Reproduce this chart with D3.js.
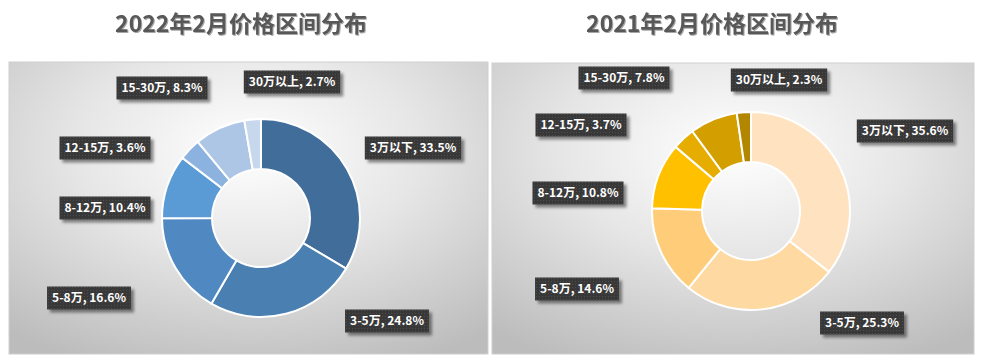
<!DOCTYPE html>
<html>
<head>
<meta charset="utf-8">
<script src="https://cdn.jsdelivr.net/npm/d3@7/dist/d3.min.js"></script>
<style>
  body { margin: 0; background: #fff; }
  svg { display: block; }
</style>
</head>
<body>
<script>
'use strict';

const W = 985, H = 362;

// data
const categories = ["3万以下", "3-5万", "5-8万", "8-12万", "12-15万", "15-30万", "30万以上"];
const values2022 = [33.5, 24.8, 16.6, 10.4, 3.6, 8.3, 2.7];
const values2021 = [35.6, 25.3, 14.6, 10.8, 3.7, 7.8, 2.3];
const titles = ["2022年2月价格区间分布", "2021年2月价格区间分布"];

const colors2022 = ["#416d9b", "#4a7fb2", "#5089c2", "#5b9bd5", "#8cb2df", "#aec6e6", "#c7d7ec"];
const colors2021 = ["#ffe3c0", "#ffd9a2", "#ffcc79", "#ffc000", "#e6ad00", "#d29e00", "#b38600"];

// label box centres, relative to donut centre (hand placed like the original)
const labelOffsets2022 = [[152, -70], [126, 103], [-172, 80], [-156, -10], [-156, -70], [-99, -130], [31, -136]];
const labelOffsets2021 = [[154, -80], [111, 112], [-174, 78], [-173, -18], [-170, -86], [-127, -133], [28, -131]];

const panels = [
  { title: titles[0], values: values2022, colors: colors2022, offsets: labelOffsets2022,
    box: [9, 62, 479, 292], cx: 261, cy: 218, titleX: 241 },
  { title: titles[1], values: values2021, colors: colors2021, offsets: labelOffsets2021,
    box: [492, 63, 482, 291], cx: 751, cy: 211, titleX: 712 }
];

const svg = d3.select("body").append("svg")
    .attr("width", W)
    .attr("height", H);

const defs = svg.append("defs");

let grad = defs.append("radialGradient")
    .attr("id", "bg")
    .attr("cx", 0.5).attr("cy", 0.3).attr("r", 0.8)
    .attr("fx", 0.5).attr("fy", 0.3);
grad.append("stop").attr("offset", "0%").attr("stop-color", "#ffffff");
grad.append("stop").attr("offset", "45%").attr("stop-color", "#e6e6e6");
grad.append("stop").attr("offset", "100%").attr("stop-color", "#bcbcbc");

let pat = defs.append("pattern")
    .attr("id", "dots")
    .attr("width", 3).attr("height", 3)
    .attr("patternUnits", "userSpaceOnUse");
pat.append("rect").attr("width", 3).attr("height", 3).attr("fill", "#393939");
pat.append("rect").attr("x", 1).attr("y", 1).attr("width", 1).attr("height", 1).attr("fill", "#4d4d4d");

let shadow = defs.append("filter").attr("id", "shadow")
    .attr("x", "-20%").attr("y", "-30%").attr("width", "150%").attr("height", "180%");
shadow.append("feDropShadow")
    .attr("dx", 3).attr("dy", 3).attr("stdDeviation", 1.5)
    .attr("flood-color", "#000").attr("flood-opacity", 0.45);

let textShadow = defs.append("filter").attr("id", "tshadow")
    .attr("x", "-10%").attr("y", "-30%").attr("width", "120%").attr("height", "160%");
textShadow.append("feDropShadow")
    .attr("dx", 1).attr("dy", 1).attr("stdDeviation", 0.6)
    .attr("flood-color", "#000").attr("flood-opacity", 0.35);

const pie = d3.pie().sort(null).value(d => d);
const arc = d3.arc().innerRadius(49).outerRadius(99);

panels.forEach(p => {
    let g = svg.append("g");

    g.append("rect")
        .attr("x", p.box[0]).attr("y", p.box[1])
        .attr("width", p.box[2]).attr("height", p.box[3])
        .attr("fill", "url(#bg)")
        .attr("stroke", "#cfcfcf")
        .attr("stroke-width", 1);

    g.append("text")
        .attr("x", p.titleX)
        .attr("y", 32)
        .attr("text-anchor", "middle")
        .attr("font-family", "'Noto Sans CJK SC', sans-serif")
        .attr("font-weight", "bold")
        .attr("font-size", 23)
        .attr("fill", "#595959")
        .attr("filter", "url(#tshadow)")
        .text(p.title);

    let donut = g.append("g")
        .attr("transform", "translate(" + p.cx + "," + p.cy + ")");

    donut.selectAll("path")
        .data(pie(p.values))
        .join("path")
        .attr("d", arc)
        .attr("fill", (d, i) => p.colors[i])
        .attr("stroke", "#ffffff")
        .attr("stroke-width", 2);

    let labels = donut.selectAll("g.label")
        .data(p.values)
        .join("g")
        .attr("class", "label")
        .attr("transform", (d, i) => "translate(" + p.offsets[i][0] + "," + p.offsets[i][1] + ")");

    labels.each(function (d, i) {
        let lg = d3.select(this);
        let box = lg.append("rect").attr("fill", "url(#dots)").attr("filter", "url(#shadow)");
        let t = lg.append("text")
            .attr("text-anchor", "middle")
            .attr("dy", "0.36em")
            .attr("font-family", "'Noto Sans CJK SC', sans-serif")
            .attr("font-weight", "bold")
            .attr("font-size", 12)
            .attr("fill", "#ffffff")
            .text(categories[i] + ", " + d.toFixed(1) + "%");
        let w = t.node().getComputedTextLength() + 10;
        box.attr("x", -w / 2).attr("y", -11.5).attr("width", w).attr("height", 23);
    });
});
</script>
</body>
</html>
